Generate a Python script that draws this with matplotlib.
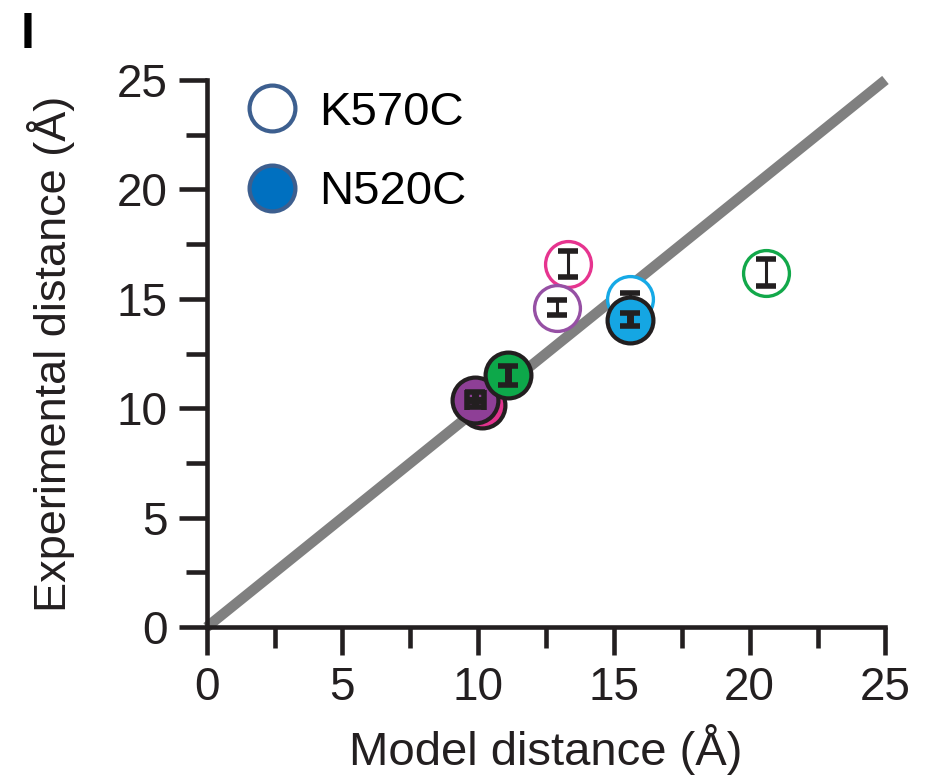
import matplotlib
matplotlib.use("Agg")
import matplotlib.pyplot as plt
from matplotlib.lines import Line2D

plt.rcParams['font.family'] = ['Liberation Sans', 'DejaVu Sans']

# K570C (open circles)
k_x = [13.3, 12.9, 15.6, 20.6]
k_y = [16.6, 14.6, 15.0, 16.2]
k_err = [0.6, 0.35, 0.25, 0.6]
k_colors = ['#e6348f', '#9650a4', '#16a9e6', '#12a84a']

# N520C (filled circles)
n_x = [10.15, 9.9, 11.1, 15.6]
n_y = [10.15, 10.4, 11.5, 14.05]
n_err = [0.3, 0.35, 0.45, 0.3]
n_xerr = [0.2, 0.3, 0.0, 0.0]
n_colors = ['#e0338d', '#8e3f96', '#0da84a', '#15a6e3']

diag = [0, 25]
ticks = [0, 5, 10, 15, 20, 25]
minor_ticks = [2.5, 7.5, 12.5, 17.5, 22.5]

INK = '#231f20'

fig = plt.figure(figsize=(9.35, 7.84), dpi=100)
ax = fig.add_axes([0.221, 0.2, 0.726, 0.698])

ax.plot(diag, diag, color='#808080', lw=7.5, solid_capstyle='butt', zorder=1, clip_on=False)

z = 3
for x, y, e, c in zip(k_x, k_y, k_err, k_colors):
    ax.plot([x], [y], 'o', ms=33, mfc='white', mec=c, mew=2.4, zorder=z, clip_on=False)
    ax.errorbar([x], [y], yerr=[e], fmt='none', ecolor=INK, elinewidth=2.2,
                capsize=7, capthick=4, zorder=z + 1)
    z += 2
for x, y, e, xe, c in zip(n_x, n_y, n_err, n_xerr, n_colors):
    ax.plot([x], [y], 'o', ms=33, mfc=c, mec=INK, mew=3, zorder=z, clip_on=False)
    ax.errorbar([x], [y], yerr=[e], xerr=[xe] if xe > 0 else None, fmt='none',
                ecolor=INK, elinewidth=5, capsize=7, capthick=4, zorder=z + 1)
    z += 2

ax.set_xlim(0, 25)
ax.set_ylim(0, 25)
ax.set_xticks(ticks)
ax.set_yticks(ticks)
ax.set_xticks(minor_ticks, minor=True)
ax.set_yticks(minor_ticks, minor=True)
for s in ['top', 'right']:
    ax.spines[s].set_visible(False)
for s in ['left', 'bottom']:
    ax.spines[s].set_linewidth(3.3)
    ax.spines[s].set_color(INK)
ax.tick_params(which='major', length=20, width=3.3, color=INK, labelsize=33, pad=8,
               labelcolor=INK)
ax.tick_params(which='minor', length=15, width=3.3, color=INK)
ax.set_xlabel('Model distance (Å)', fontsize=34, labelpad=10, color=INK)
ax.set_ylabel('Experimental distance (Å)', fontsize=32.5, labelpad=30, color=INK)

handles = [
    Line2D([], [], marker='o', ls='none', ms=33, mfc='white', mec='#3d5f8f', mew=3),
    Line2D([], [], marker='o', ls='none', ms=33, mfc='#0070c0', mec='#3d5f8f', mew=3),
]
ax.legend(handles, ['K570C', 'N520C'], loc='upper left', bbox_to_anchor=(0.062, 0.98),
          frameon=False, fontsize=34, handlelength=1.0, handletextpad=0.5,
          labelspacing=0.75, borderaxespad=0, borderpad=0)

fig.text(0.022, 0.985, 'I', fontsize=36, fontweight='bold', va='top', ha='left')

fig.savefig('out.png', dpi=100)
